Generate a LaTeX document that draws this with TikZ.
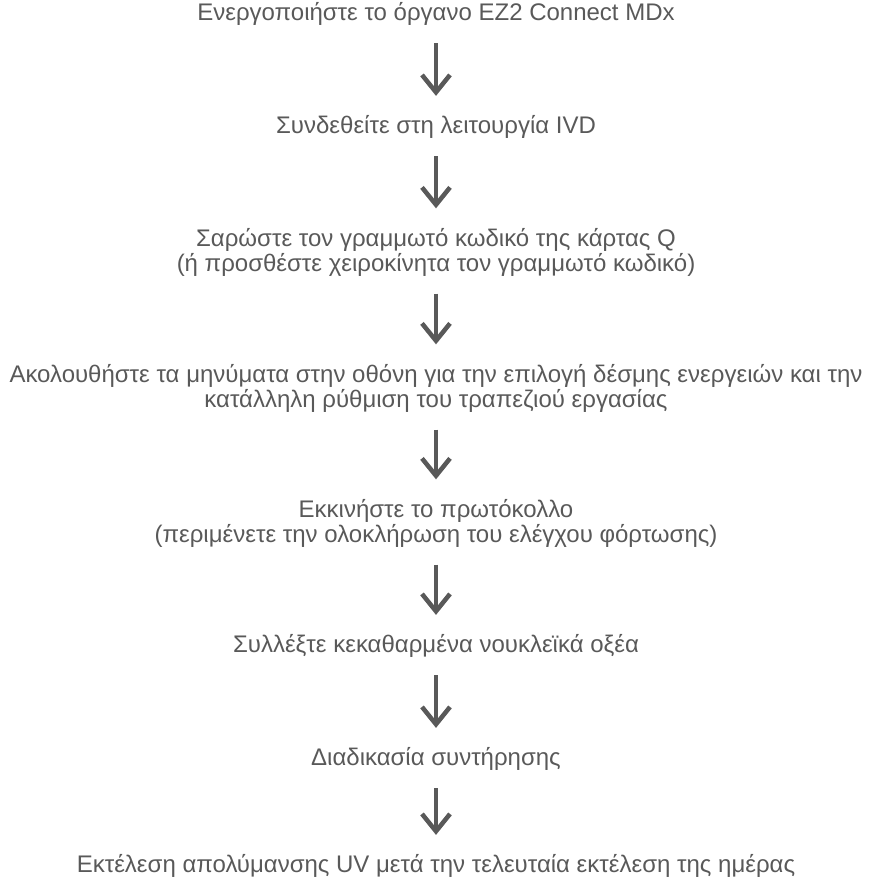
\documentclass[tikz,border=0pt]{standalone}
\usepackage{fontspec}
\setmainfont{Liberation Sans}
\usetikzlibrary{arrows.meta}
\definecolor{txtgray}{HTML}{595959}

\begin{document}
\begin{tikzpicture}[x=0.75pt,y=-0.75pt,
  stepnode/.style={text=txtgray,align=center,inner sep=0pt,font=\fontsize{18}{18.8}\selectfont},
  flow/.style={draw=txtgray,line width=2.8pt,shorten <=13pt,shorten >=14.5pt,
    -{Straight Barb[length=13pt,width=21pt,line width=3.4pt]}}]
\useasboundingbox (0,0) rectangle (868,878);
\node[stepnode] (A) at (436,14) {Ενεργοποιήστε το όργανο EZ2 Connect MDx};
\node[stepnode] (B) at (436,127) {Συνδεθείτε στη λειτουργία IVD};
\node[stepnode] (C) at (436,252) {Σαρώστε τον γραμμωτό κωδικό της κάρτας Q\\(ή προσθέστε χειροκίνητα τον γραμμωτό κωδικό)};
\node[stepnode] (D) at (436,388) {Ακολουθήστε τα μηνύματα στην οθόνη για την επιλογή δέσμης ενεργειών και την\\κατάλληλη ρύθμιση του τραπεζιού εργασίας};
\node[stepnode] (E) at (436,523) {Εκκινήστε το πρωτόκολλο\\(περιμένετε την ολοκλήρωση του ελέγχου φόρτωσης)};
\node[stepnode] (F) at (436,646) {Συλλέξτε κεκαθαρμένα νουκλεϊκά οξέα};
\node[stepnode] (G) at (436,759) {Διαδικασία συντήρησης};
\node[stepnode] (H) at (436,866) {Εκτέλεση απολύμανσης UV μετά την τελευταία εκτέλεση της ημέρας};
% arrows
\draw[flow] (A) -- (B);
\draw[flow] (B) -- (C);
\draw[flow] (C) -- (D);
\draw[flow] (D) -- (E);
\draw[flow] (E) -- (F);
\draw[flow] (F) -- (G);
\draw[flow] (G) -- (H);
\end{tikzpicture}
\end{document}
